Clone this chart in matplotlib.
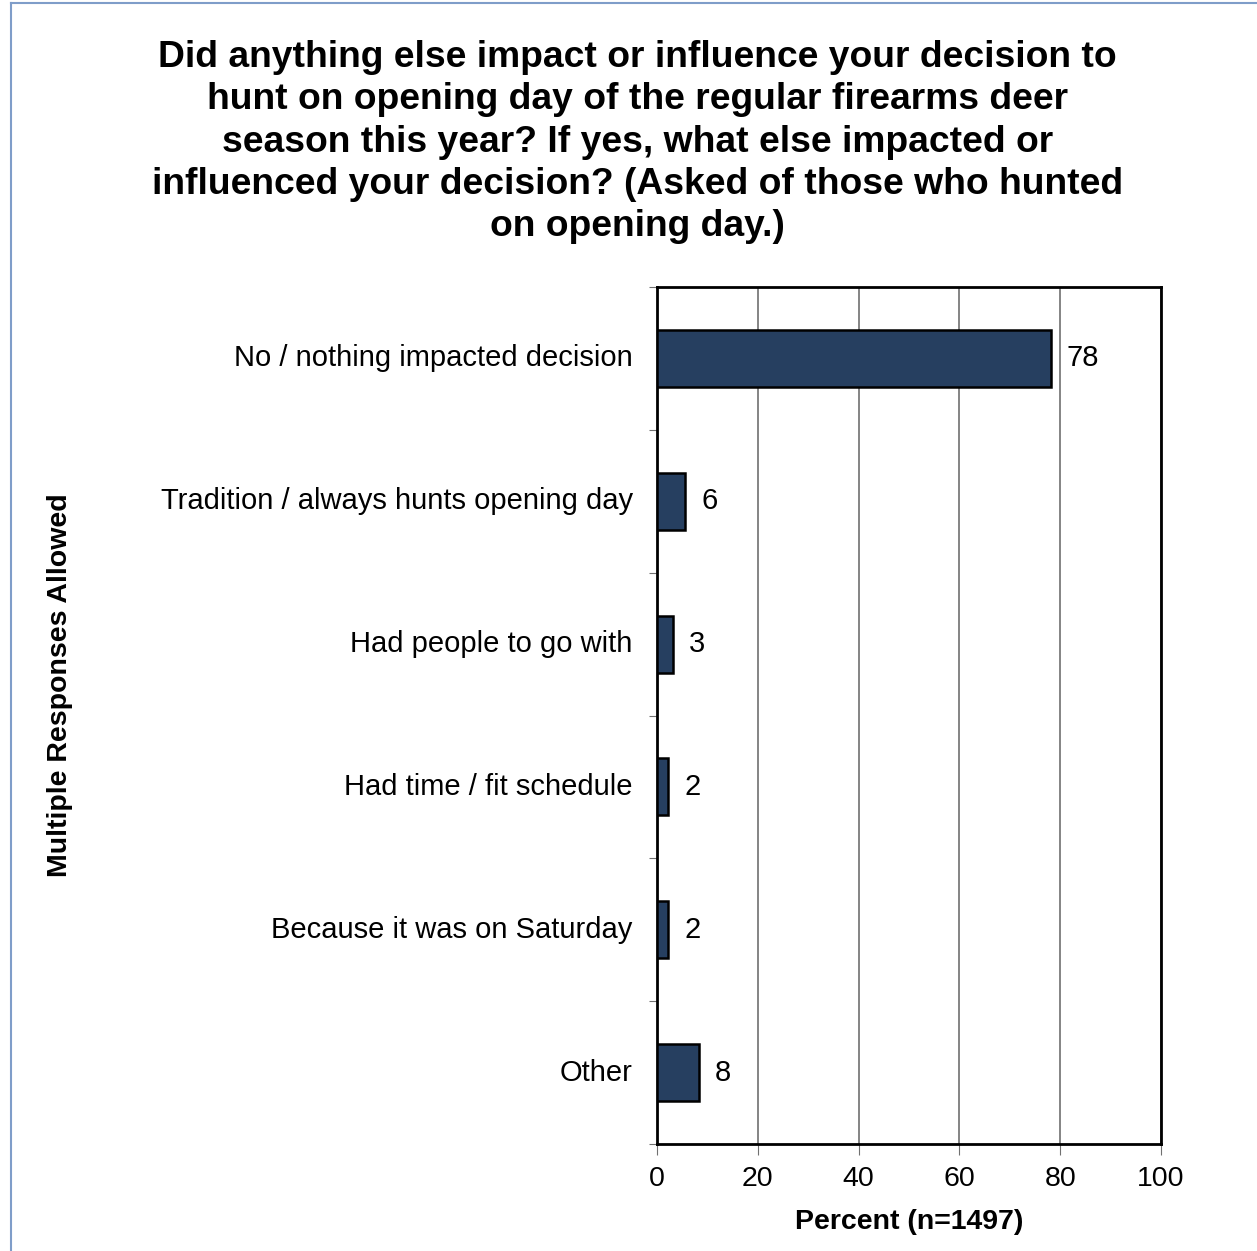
import matplotlib.pyplot as plt
from matplotlib.lines import Line2D

plt.rcParams['font.family'] = ['Liberation Sans', 'DejaVu Sans']

categories = ['No / nothing impacted decision', 'Tradition / always hunts opening day',
              'Had people to go with', 'Had time / fit schedule',
              'Because it was on Saturday', 'Other']
values = [78.1, 5.6, 3.2, 2.2, 2.2, 8.3]
labels = ['78', '6', '3', '2', '2', '8']

title = ('Did anything else impact or influence your decision to\n'
         'hunt on opening day of the regular firearms deer\n'
         'season this year? If yes, what else impacted or\n'
         'influenced your decision? (Asked of those who hunted\n'
         'on opening day.)')

fig = plt.figure(figsize=(12.57, 12.51), dpi=100)
ax = fig.add_axes([0.5227, 0.0855, 0.4009, 0.6851])

ypos = list(range(len(categories)))
bars = ax.barh(ypos, values, height=0.4, color='#263F60', edgecolor='black', linewidth=1.8, zorder=3)
for b, lab in zip(bars, labels):
    ax.text(b.get_width() + 3.2, b.get_y() + b.get_height() / 2, lab,
            va='center', ha='left', fontsize=21)

ax.set_ylim(len(categories) - 0.5, -0.5)
ax.set_xlim(0, 100)
ax.set_xticks([0, 20, 40, 60, 80, 100])
ax.tick_params(axis='x', labelsize=20.5, length=8, color='#707070', direction='out', pad=8)
ax.grid(axis='x', color='#707070', linewidth=1.2, zorder=0)

# category labels as text, boundary ticks on the y axis
ax.set_yticks([y - 0.5 for y in range(len(categories) + 1)])
ax.set_yticklabels([])
ax.tick_params(axis='y', length=6, color='#707070', direction='out')
for y, c in zip(ypos, categories):
    ax.text(-4.8, y, c, ha='right', va='center', fontsize=21)

for s in ax.spines.values():
    s.set_linewidth(2)
    s.set_color('black')

ax.set_xlabel('Percent (n=1497)', fontsize=20.5, fontweight='bold', labelpad=12)
fig.text(0.048, 0.452, 'Multiple Responses Allowed', rotation=90, ha='center', va='center',
         fontsize=20.5, fontweight='bold')
fig.text(0.507, 0.968, title, ha='center', va='top', fontsize=26.8, fontweight='bold',
         linespacing=1.27)

# thin frame at top and left
fig.add_artist(Line2D([0.009, 1.0], [0.9975, 0.9975], color='#7F9DC9', linewidth=1.5))
fig.add_artist(Line2D([0.009, 0.009], [0.0, 0.9975], color='#7F9DC9', linewidth=1.5))

fig.savefig('out.png', dpi=100)
